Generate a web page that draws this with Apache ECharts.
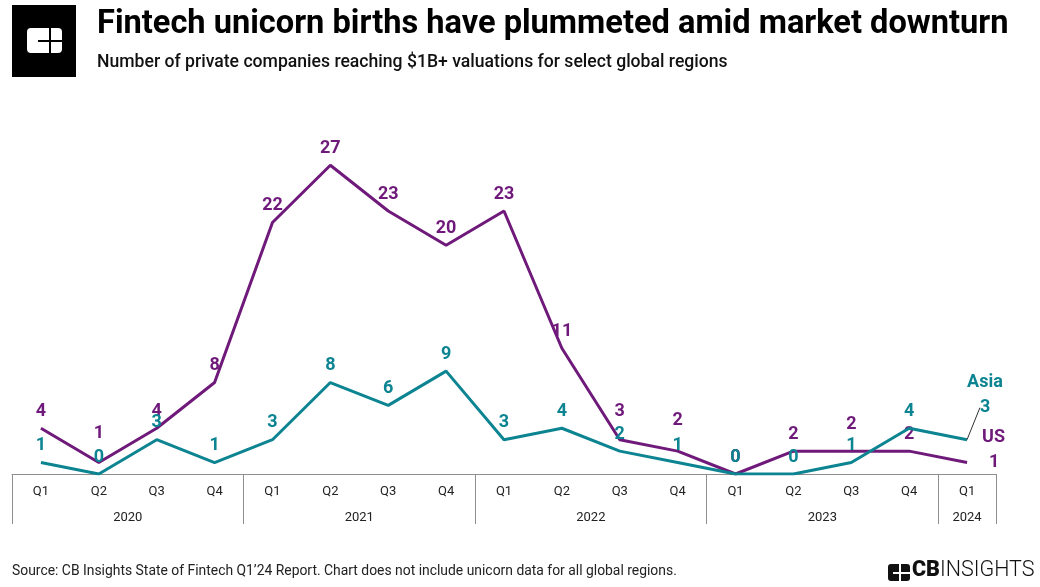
<!DOCTYPE html>
<html><head><meta charset="utf-8">
<script src="https://cdn.jsdelivr.net/npm/echarts@6/dist/echarts.min.js"></script>
<style>html,body{margin:0;padding:0;background:#fff}#c{width:1040px;height:587px}</style>
</head><body><div id="c"></div>
<script>
const quarters = ['Q1','Q2','Q3','Q4','Q1','Q2','Q3','Q4','Q1','Q2','Q3','Q4','Q1','Q2','Q3','Q4','Q1'];
const years = ['2020','2021','2022','2023','2024'];
const yearCenters = [1.5, 5.5, 9.5, 13.5, 16];
const yearBounds = [-0.5, 3.5, 7.5, 11.5, 15.5, 16.5];
const usValues = [4,1,4,8,22,27,23,20,23,11,3,2,0,2,2,2,1];
const asiaValues = [1,0,3,1,3,8,6,9,3,4,2,1,0,0,1,4,3];

const US_COLOR = '#6f1a7a';
const ASIA_COLOR = '#0c8491';
const FONT = 'Roboto';

// label distance tweaks (style only) to keep overlapping labels apart
const usLabelDistance = {1: 20, 10: 19, 11: 22, 14: 18};

const chart = echarts.init(document.getElementById('c'), null, {renderer: 'canvas'});

const lastUS = usValues.length - 1;
const lastAsia = asiaValues.length - 1;

const usData = usValues.map((v, i) => {
  const d = {value: v};
  if (usLabelDistance[i] !== undefined) d.label = {distance: usLabelDistance[i]};
  if (i === lastUS) d.label = {position: 'right', distance: 22};
  return d;
});
const asiaData = asiaValues.map((v, i) => {
  const d = {value: v};
  if (i === lastAsia) d.labelLine = {show: true};
  return d;
});

const labelBase = (color) => ({
  show: true, position: 'top', distance: 8, color: color,
  fontFamily: FONT, fontSize: 18, fontWeight: 'bold'
});

const option = {
  backgroundColor: '#fff',
  animation: false,
  grid: {left: 12, right: 44, top: 131, bottom: 113, containLabel: false},
  xAxis: [{
    type: 'category', data: quarters, boundaryGap: true, position: 'bottom',
    axisLine: {show: true, lineStyle: {color: '#8e8e8e', width: 1}},
    axisTick: {show: false},
    axisLabel: {interval: 0, color: '#222', fontFamily: FONT, fontSize: 13, margin: 11},
    splitLine: {show: false}
  }, {
    type: 'value', min: -0.5, max: 16.5, position: 'bottom',
    axisLine: {show: false},
    splitLine: {show: false},
    axisTick: {show: true, customValues: yearBounds, length: 50, lineStyle: {color: '#8e8e8e', width: 1}},
    axisLabel: {show: true, customValues: yearCenters, margin: 37, color: '#222', fontFamily: FONT, fontSize: 13,
      formatter: (val) => years[yearCenters.indexOf(val)] || ''}
  }],
  yAxis: {type: 'value', min: 0, max: 30, show: false, splitLine: {show: false}},
  series: [{
    name: 'US', type: 'line', data: usData, xAxisIndex: 0,
    symbol: 'circle', symbolSize: 0, showSymbol: true,
    lineStyle: {color: US_COLOR, width: 3}, itemStyle: {color: US_COLOR},
    label: labelBase(US_COLOR),
    endLabel: {show: true, formatter: '{a}', color: US_COLOR, fontFamily: FONT, fontSize: 18, fontWeight: 'bold',
      offset: [7, -25]},
    z: 2
  }, {
    name: 'Asia', type: 'line', data: asiaData, xAxisIndex: 0,
    symbol: 'circle', symbolSize: 0, showSymbol: true,
    lineStyle: {color: ASIA_COLOR, width: 3}, itemStyle: {color: ASIA_COLOR},
    label: labelBase(ASIA_COLOR),
    labelLine: {show: false, lineStyle: {color: '#333', width: 1}},
    labelLayout: (p) => (p.dataIndex === lastAsia ? {dx: 18, dy: -15} : {}),
    endLabel: {show: true, formatter: '{a}', color: ASIA_COLOR, fontFamily: FONT, fontSize: 18, fontWeight: 'bold',
      offset: [-8, -57]},
    z: 3
  }],
  graphic: [
    {type: 'rect', left: 12, top: 5, shape: {width: 64, height: 72}, style: {fill: '#000'}},
    {type: 'rect', left: 27, top: 28, shape: {width: 35, height: 25, r: 4}, style: {fill: '#fff'}},
    {type: 'rect', left: 49, top: 28, shape: {width: 2, height: 25}, style: {fill: '#000'}},
    {type: 'rect', left: 38, top: 40, shape: {width: 24, height: 2}, style: {fill: '#000'}},
    {type: 'text', left: 97, top: 8, style: {text: 'Fintech unicorn births have plummeted amid market downturn',
      fill: '#000', font: 'bold 32.6px Roboto'}},
    {type: 'text', left: 97, top: 54, style: {text: 'Number of private companies reaching $1B+ valuations for select global regions',
      fill: '#111', font: '500 17.6px Roboto'}},
    {type: 'text', left: 12, top: 565, style: {text: 'Source: CB Insights State of Fintech Q1\u201924 Report. Chart does not include unicorn data for all global regions.',
      fill: '#222', font: '13.9px Roboto'}},
    {type: 'rect', left: 888, top: 564, shape: {width: 22, height: 17, r: 3}, style: {fill: '#111'}},
    {type: 'rect', left: 899, top: 564, shape: {width: 2, height: 17}, style: {fill: '#fff'}},
    {type: 'rect', left: 893, top: 572, shape: {width: 17, height: 2}, style: {fill: '#fff'}},
    {type: 'text', left: 912, top: 560, style: {text: '{a|CB}{b|INSIGHTS}',
      rich: {a: {font: '900 21.5px Roboto', fill: '#111'}, b: {font: '300 21.5px Roboto', fill: '#111'}}}}
  ]
};
chart.setOption(option);
</script>
</body></html>
